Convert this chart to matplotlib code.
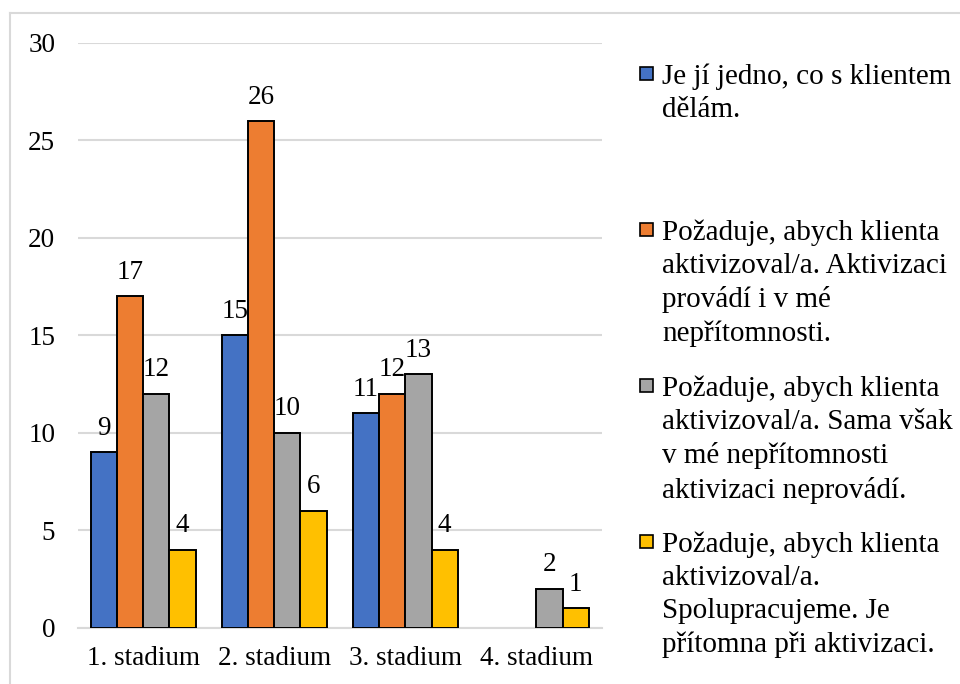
import numpy as np
import matplotlib
matplotlib.use("Agg")
import matplotlib.pyplot as plt
from matplotlib.patches import Rectangle
from matplotlib.lines import Line2D

plt.rcParams['font.family'] = ['Liberation Serif', 'DejaVu Serif']

categories = ["1. stadium", "2. stadium", "3. stadium", "4. stadium"]
series_labels = [
    "Je jí jedno, co s klientem\ndělám.",
    "Požaduje, abych klienta\naktivizoval/a. Aktivizaci\nprovádí i v mé\nnepřítomnosti.",
    "Požaduje, abych klienta\naktivizoval/a. Sama však\nv mé nepřítomnosti\naktivizaci neprovádí.",
    "Požaduje, abych klienta\naktivizoval/a.\nSpolupracujeme. Je\npřítomna při aktivizaci.",
]
values_lhostejna = [9, 15, 11, None]
values_aktivizuje = [17, 26, 12, None]
values_sama_ne = [12, 10, 13, 2]
values_spoluprace = [4, 6, 4, 1]
yticks = [0, 5, 10, 15, 20, 25, 30]

series = [values_lhostejna, values_aktivizuje, values_sama_ne, values_spoluprace]
colors = ["#4472C4", "#ED7D31", "#A5A5A5", "#FFC000"]

W, H = 960, 684
fig = plt.figure(figsize=(W / 100, H / 100), dpi=100)

# chart frame
fig.add_artist(Line2D([10 / W, 10 / W], [0, 1 - 13 / H], color="#d9d9d9", lw=1.5,
                      transform=fig.transFigure))
fig.add_artist(Line2D([10 / W, 1], [1 - 13 / H, 1 - 13 / H], color="#d9d9d9", lw=1.5,
                      transform=fig.transFigure))

x0, x1 = 77.5, 602
ytop, ybot = 42.7, 627.5
ax = fig.add_axes([x0 / W, 1 - ybot / H, (x1 - x0) / W, (ybot - ytop) / H])

fs = 19.5
fs_leg = 21
n = len(categories)
x = np.arange(n)
bw = 0.2
for i, (vals, col) in enumerate(zip(series, colors)):
    v = np.array([np.nan if a is None else a for a in vals], dtype=float)
    pos = x + (i - 1.5) * bw
    bars = ax.bar(pos, np.nan_to_num(v), width=bw, color=col, edgecolor="black",
                  linewidth=1.4, zorder=3)
    for b, val in zip(bars, v):
        if np.isnan(val):
            b.set_visible(False)
            continue
        ax.annotate(f"{int(val)}", (b.get_x() + b.get_width() / 2, val),
                    xytext=(0, 8), textcoords="offset points",
                    ha="center", va="bottom", fontsize=fs)

ax.set_xlim(-0.5, n - 0.5)
ax.set_ylim(0, 30)
ax.set_yticks(yticks)
ax.set_yticklabels([str(t) for t in yticks], fontsize=fs)
ax.set_xticks(x)
ax.set_xticklabels(categories, fontsize=fs)
ax.tick_params(length=0)
ax.tick_params(axis="y", pad=16)
ax.tick_params(axis="x", pad=13)
ax.grid(axis="y", color="#d9d9d9", lw=1.5, zorder=0)
for s in ["top", "right", "left"]:
    ax.spines[s].set_visible(False)
ax.spines["bottom"].set_color("#d9d9d9")
ax.spines["bottom"].set_linewidth(1.5)

# legend
slot = 156
for i, (lab, col) in enumerate(zip(series_labels, colors)):
    top = 63 + i * slot
    fig.add_artist(Rectangle((640 / W, 1 - (top + 17) / H), 13 / W, 13 / H,
                             facecolor=col, edgecolor="black", lw=1.2,
                             transform=fig.transFigure))
    fig.text(662 / W, 1 - top / H, lab, fontsize=fs_leg, va="top", ha="left",
             linespacing=1.36)

fig.savefig("out.png", dpi=100)
